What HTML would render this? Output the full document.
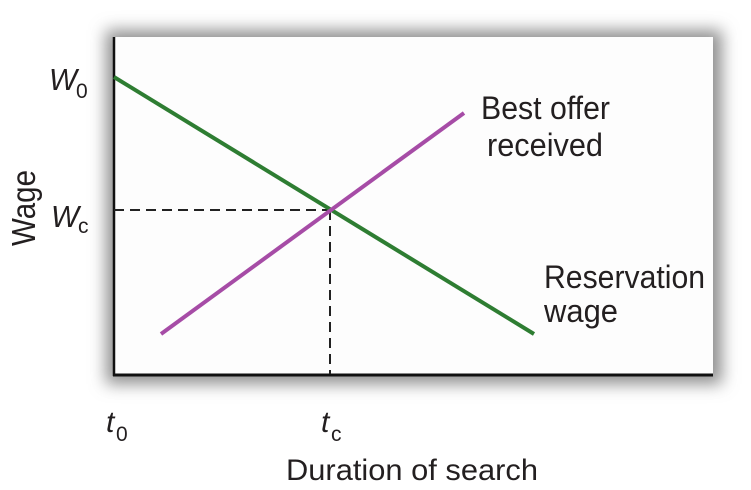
<!DOCTYPE html>
<html><head><meta charset="utf-8"><style>
html,body{margin:0;padding:0;background:#fff;}
svg{display:block;}
text{font-family:"Liberation Sans",sans-serif;fill:#231f20;}
</style></head><body>
<svg width="751" height="490" viewBox="0 0 751 490" xmlns="http://www.w3.org/2000/svg">
<defs>
<filter id="sh" x="-20%" y="-20%" width="140%" height="140%">
<feGaussianBlur stdDeviation="8"/>
</filter>
</defs>
<rect x="0" y="0" width="751" height="490" fill="#fff"/>
<rect x="106" y="30" width="616" height="354" fill="#8f8f8f" filter="url(#sh)"/>
<rect x="113" y="37" width="600" height="338" fill="#fdfdfd"/>
<line x1="114" y1="37" x2="114" y2="376" stroke="#111" stroke-width="2.5"/>
<line x1="113" y1="375" x2="713" y2="375" stroke="#111" stroke-width="3"/>
<line x1="114" y1="210" x2="330" y2="210" stroke="#222" stroke-width="2" stroke-dasharray="10,6"/>
<line x1="330" y1="210" x2="330" y2="374" stroke="#222" stroke-width="2" stroke-dasharray="10,6"/>
<line x1="114" y1="77" x2="534" y2="334" stroke="#2e7d32" stroke-width="4"/>
<line x1="161" y1="334" x2="464" y2="113" stroke="#a64ca6" stroke-width="4"/>
<text x="49" y="90" font-size="31" font-style="italic" textLength="28" lengthAdjust="spacingAndGlyphs">W</text>
<text x="76" y="98" font-size="21">0</text>
<text x="51" y="227" font-size="31" font-style="italic" textLength="28" lengthAdjust="spacingAndGlyphs">W</text>
<text x="78" y="233" font-size="21">c</text>
<text transform="translate(35,246) rotate(-90)" font-size="33" textLength="76" lengthAdjust="spacingAndGlyphs">Wage</text>
<text x="106" y="432" font-size="30" font-style="italic">t</text>
<text x="116" y="441" font-size="21">0</text>
<text x="321" y="432" font-size="30" font-style="italic">t</text>
<text x="331" y="441" font-size="21">c</text>
<text x="286" y="480" font-size="30" textLength="252" lengthAdjust="spacingAndGlyphs">Duration of search</text>
<text x="481" y="119" font-size="32" textLength="129" lengthAdjust="spacingAndGlyphs">Best offer</text>
<text x="487" y="156" font-size="32" textLength="116" lengthAdjust="spacingAndGlyphs">received</text>
<text x="544" y="288" font-size="32" textLength="161" lengthAdjust="spacingAndGlyphs">Reservation</text>
<text x="544" y="322" font-size="32" textLength="74" lengthAdjust="spacingAndGlyphs">wage</text>
</svg>
</body></html>
